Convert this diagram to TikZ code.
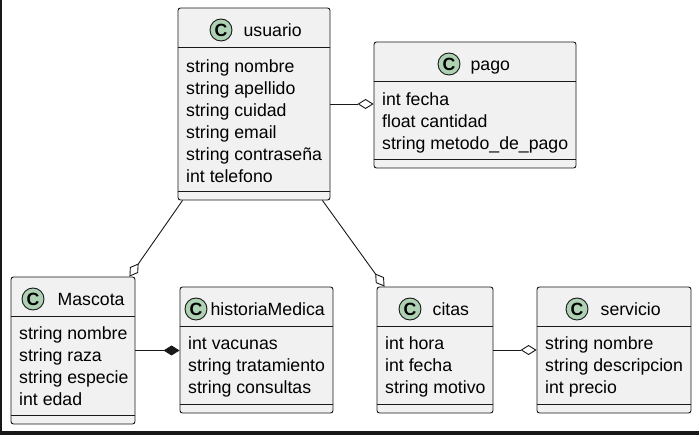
\documentclass[tikz,border=0pt]{standalone}
\usepackage{fontspec}
\setmainfont{Liberation Sans}
\usetikzlibrary{positioning,arrows.meta}
\definecolor{boxfill}{HTML}{F1F1F1}
\definecolor{boxline}{HTML}{181818}
\definecolor{spotgreen}{HTML}{ADD1B2}
\newcommand\umlfont{\fontsize{17.7}{22}\selectfont}

\begin{document}
\begin{tikzpicture}[x=1pt,y=-1pt,
  cls/.style={draw=boxline,fill=boxfill,line width=0.9pt,rounded corners=2.5pt,inner sep=0pt},
  sep/.style={draw=boxline,line width=0.9pt},
  cmark/.style={circle,draw=boxline,fill=spotgreen,line width=0.9pt,minimum size=22pt,
    inner sep=0pt,font=\umlfont\bfseries},
  title/.style={inner sep=0pt,font=\umlfont},
  attr/.style={inner sep=0pt,anchor=base west,align=left,font=\umlfont},
  link/.style={draw=boxline,line width=0.9pt},
  agg/.style={link,-{Diamond[open,length=16pt,width=10pt]}},
  comp/.style={link,-{Diamond[length=16pt,width=10pt]}}]
  \useasboundingbox (0,0) rectangle (699,435);
  \fill[boxline] (0,0) rectangle (2,435);
  \fill[boxline] (0,431) rectangle (699,435);

  \node[cls,minimum width=152pt,minimum height=192pt] (usuario) at (254,104) {};
  \draw[sep] ([yshift=-40pt]usuario.north west) -- ([yshift=-40pt]usuario.north east)
             ([yshift=9pt]usuario.south west) -- ([yshift=9pt]usuario.south east);
  \node[cmark] (usuarioC) at (221,30) {C};
  \node[title,base right=11pt of usuarioC] (usuarioT) {usuario};
  \node[attr] (usuarioA) at (186,183) {string nombre\\string apellido\\string cuidad\\
    string email\\string contraseña\\int telefono};

  \node[cls,minimum width=202pt,minimum height=126pt] (pago) at (475,105) {};
  \draw[sep] ([yshift=-40pt]pago.north west) -- ([yshift=-40pt]pago.north east)
             ([yshift=9pt]pago.south west) -- ([yshift=9pt]pago.south east);
  \node[cmark] (pagoC) at (449,64) {C};
  \node[title,base right=10pt of pagoC] (pagoT) {pago};
  \node[attr] (pagoA) at (382,150) {int fecha\\float cantidad\\string metodo\_de\_pago};

  \node[cls,minimum width=124pt,minimum height=147pt] (Mascota) at (73,350.5) {};
  \draw[sep] ([yshift=-40pt]Mascota.north west) -- ([yshift=-40pt]Mascota.north east)
             ([yshift=9pt]Mascota.south west) -- ([yshift=9pt]Mascota.south east);
  \node[cmark] (MascotaC) at (33,299) {C};
  \node[title,base right=13pt of MascotaC] (MascotaT) {Mascota};
  \node[attr] (MascotaA) at (19,406) {string nombre\\string raza\\string especie\\int edad};

  \node[cls,minimum width=153pt,minimum height=126pt] (historiaMedica) at (256.5,350) {};
  \draw[sep] ([yshift=-40pt]historiaMedica.north west) -- ([yshift=-40pt]historiaMedica.north east)
             ([yshift=9pt]historiaMedica.south west) -- ([yshift=9pt]historiaMedica.south east);
  \node[cmark] (historiaMedicaC) at (196,309) {C};
  \node[title,base right=3pt of historiaMedicaC] (historiaMedicaT) {historiaMedica};
  \node[attr] (historiaMedicaA) at (188,394) {int vacunas\\string tratamiento\\string consultas};

  \node[cls,minimum width=116pt,minimum height=126pt] (citas) at (435,350) {};
  \draw[sep] ([yshift=-40pt]citas.north west) -- ([yshift=-40pt]citas.north east)
             ([yshift=9pt]citas.south west) -- ([yshift=9pt]citas.south east);
  \node[cmark] (citasC) at (410,309) {C};
  \node[title,base right=11pt of citasC] (citasT) {citas};
  \node[attr] (citasA) at (385,394) {int hora\\int fecha\\string motivo};

  \node[cls,minimum width=154pt,minimum height=126pt] (servicio) at (614,350) {};
  \draw[sep] ([yshift=-40pt]servicio.north west) -- ([yshift=-40pt]servicio.north east)
             ([yshift=9pt]servicio.south west) -- ([yshift=9pt]servicio.south east);
  \node[cmark] (servicioC) at (577,309) {C};
  \node[title,base right=12pt of servicioC] (servicioT) {servicio};
  \node[attr] (servicioA) at (545,394) {string nombre\\string descripcion\\int precio};

  \draw[agg] (usuario.east) -- (usuario.east -| pago.west);
  \draw[agg] ([xshift=5pt]usuario.south west) -- ([xshift=-6pt]Mascota.north east);
  \draw[agg] ([xshift=-8pt]usuario.south east) -- ([xshift=8pt]citas.north west);
  \draw[comp] (Mascota.east) -- (Mascota.east -| historiaMedica.west);
  \draw[agg] (citas.east) -- (citas.east -| servicio.west);
\end{tikzpicture}
\end{document}
